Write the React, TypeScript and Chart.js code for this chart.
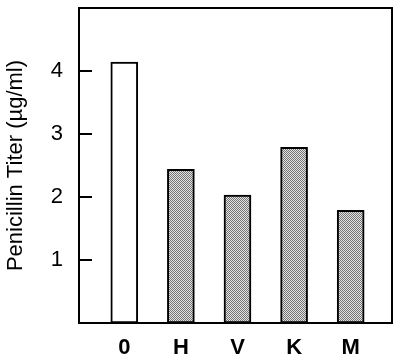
import React, { useEffect, useRef } from "react";
import { Chart, registerables } from "chart.js";

Chart.register(...registerables);

const categories = ["0", "H", "V", "K", "M"];
const titerValues = [4.14, 2.44, 2.03, 2.79, 1.79];
const yTickValues = [1, 2, 3, 4];
const yAxisTitle = "Penicillin Titer (µg/ml)";

export default function App() {
  const canvasRef = useRef<HTMLCanvasElement | null>(null);

  useEffect(() => {
    const canvas = canvasRef.current;
    if (!canvas) return;
    const ctx = canvas.getContext("2d");
    if (!ctx) return;

    const pc = document.createElement("canvas");
    pc.width = 2;
    pc.height = 2;
    const pctx = pc.getContext("2d")!;
    pctx.fillStyle = "#e4e4e4";
    pctx.fillRect(0, 0, 2, 2);
    pctx.fillStyle = "#747474";
    pctx.fillRect(0, 0, 1, 1);
    pctx.fillRect(1, 1, 1, 1);
    const pattern = ctx.createPattern(pc, "repeat")!;

    const fills = categories.map((_, i) => (i === 0 ? "#ffffff" : pattern));

    const framePlugin = {
      id: "frameAndTicks",
      afterDatasetsDraw(chart: any) {
        const { ctx: c, chartArea } = chart;
        const y = chart.scales.y;
        c.save();
        c.strokeStyle = "#000";
        c.lineWidth = 2;
        c.beginPath();
        c.moveTo(chartArea.left, chartArea.top);
        c.lineTo(chartArea.right, chartArea.top);
        c.lineTo(chartArea.right, chartArea.bottom);
        c.stroke();
        yTickValues.forEach((v) => {
          const py = Math.round(y.getPixelForValue(v));
          c.beginPath();
          c.moveTo(chartArea.left, py);
          c.lineTo(chartArea.left + 13, py);
          c.stroke();
        });
        c.restore();
      },
    };

    const font = "'Liberation Sans', Arial, sans-serif";

    const chart = new Chart(ctx, {
      type: "bar",
      data: {
        datasets: [
          {
            data: titerValues.map((v, i) => ({ x: i, y: v })),
            backgroundColor: fills as any,
            borderColor: "#000",
            borderWidth: 2,
            borderSkipped: false,
            barThickness: 27,
          },
        ],
      },
      options: {
        animation: false,
        responsive: false,
        devicePixelRatio: 1,
        layout: { padding: { left: 0, top: 8, right: 8, bottom: 0 } },
        plugins: { legend: { display: false }, tooltip: { enabled: false } },
        scales: {
          x: {
            type: "linear",
            offset: false,
            min: -0.8,
            max: 4.73,
            grid: { display: false, drawTicks: false, offset: false },
            border: { display: true, color: "#000", width: 2 },
            afterBuildTicks: (scale: any) => {
              scale.ticks = categories.map((_, i) => ({ value: i }));
            },
            afterFit: (scale: any) => {
              scale.height = 40;
              scale.paddingLeft = 0;
              scale.paddingRight = 0;
            },
            ticks: {
              autoSkip: false,
              maxRotation: 0,
              padding: 12,
              color: "#000",
              font: { family: font, size: 22, weight: "bold" },
              callback: (v: any) => categories[v as number] ?? "",
            },
          },
          y: {
            type: "linear",
            min: 0,
            max: 5,
            grid: { display: false, drawTicks: false },
            border: { display: true, color: "#000", width: 2 },
            afterBuildTicks: (scale: any) => {
              scale.ticks = yTickValues.map((v) => ({ value: v }));
            },
            afterFit: (scale: any) => {
              scale.width = 79;
              scale.paddingTop = 0;
              scale.paddingBottom = 0;
            },
            ticks: {
              padding: 16,
              color: "#000",
              font: { family: font, size: 22 },
            },
            title: {
              display: true,
              text: yAxisTitle,
              color: "#000",
              padding: { top: 3, bottom: 0 },
              font: { family: font, size: 22 },
            },
          },
        },
      },
      plugins: [framePlugin],
    });

    return () => chart.destroy();
  }, []);

  return (
    <div style={{ position: "absolute", left: 0, top: 0, width: 400, height: 363, background: "#fff" }}>
      <canvas ref={canvasRef} width={400} height={363} />
    </div>
  );
}
